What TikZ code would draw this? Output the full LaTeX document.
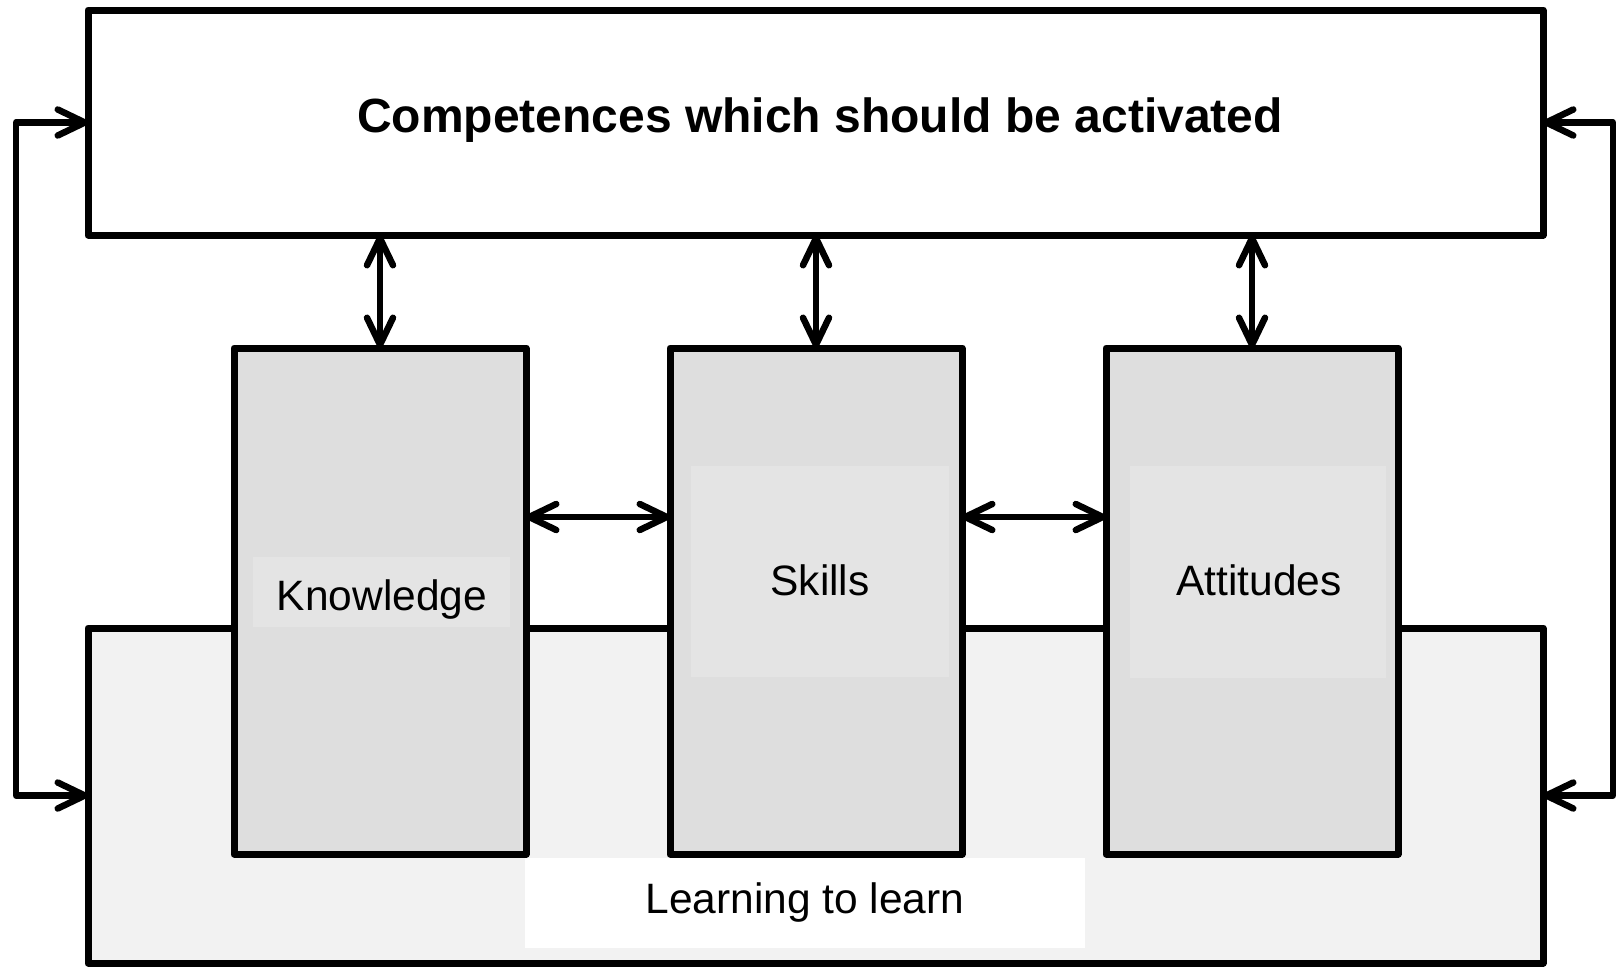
\documentclass[tikz,border=0pt]{standalone}
\usepackage{fontspec}
\setmainfont{Liberation Sans}
\usetikzlibrary{arrows.meta}
\definecolor{boxgray}{HTML}{DEDEDE}
\definecolor{labelgray}{HTML}{E4E4E4}
\definecolor{basegray}{HTML}{F2F2F2}
\tikzset{
  frame/.style={draw=black, line width=7pt, outer sep=0pt, inner sep=0pt, line join=round},
  pillar/.style={frame, fill=boxgray, minimum width=292pt, minimum height=506pt},
  labelbg/.style={fill=labelgray, draw=none, inner sep=0pt, outer sep=0pt},
  txt/.style={font=\fontsize{42.5}{48}\selectfont, inner sep=0pt, anchor=base},
  link/.style={line width=6.5pt, {Straight Barb[length=27pt,width=26pt,round]}-{Straight Barb[length=27pt,width=26pt,round]}},
}
\begin{document}
\begin{tikzpicture}[x=1pt,y=-1pt]
\useasboundingbox (0,0) rectangle (1618,967);
% bottom base box
\node[frame, fill=basegray, minimum width=1455pt, minimum height=335pt] (base) at (815.5,795.5) {};
% top box
\node[frame, fill=white, minimum width=1455pt, minimum height=225pt] (top) at (815.5,122.5) {};
% pillars
\node[pillar] (know) at (380,601) {};
\node[pillar] (skill) at (816,601) {};
\node[pillar] (att) at (1252,601) {};
% label backgrounds
\node[labelbg, minimum width=257pt, minimum height=70pt] (knowbg) at (381.5,592) {};
\node[labelbg, minimum width=258pt, minimum height=211pt] (skillbg) at (820,571.5) {};
\node[labelbg, minimum width=256pt, minimum height=212pt] (attbg) at (1258,572) {};
\node[fill=white, inner sep=0pt, outer sep=0pt, minimum width=560pt, minimum height=90pt] (learnbg) at (805,903) {};
% texts
\node[font=\bfseries\fontsize{48}{56}\selectfont, inner sep=0pt, anchor=base] (title) at (820,132) {Competences which should be activated};
\node[txt] (knowt) at (382,610) {Knowledge};
\node[txt] (skillt) at (820,595) {Skills};
\node[txt] (attt) at (1259,595) {Attitudes};
\node[txt] (learnt) at (805,913) {Learning to learn};
% vertical arrows
\draw[link] (top.south -| know.north) -- (know.north);
\draw[link] (top.south -| skill.north) -- (skill.north);
\draw[link] (top.south -| att.north) -- (att.north);
% horizontal arrows
\coordinate (hy) at (0,517);
\draw[link] (know.east |- hy) -- (skill.west |- hy);
\draw[link] (skill.east |- hy) -- (att.west |- hy);
% side loops
\coordinate (lx) at (16,0);
\coordinate (rx) at (1613,0);
\draw[link, line join=round] (top.west) -- (lx |- top.west) -- (lx |- base.west) -- (base.west);
\draw[link, line join=round] (top.east) -- (rx |- top.east) -- (rx |- base.east) -- (base.east);
\end{tikzpicture}
\end{document}
